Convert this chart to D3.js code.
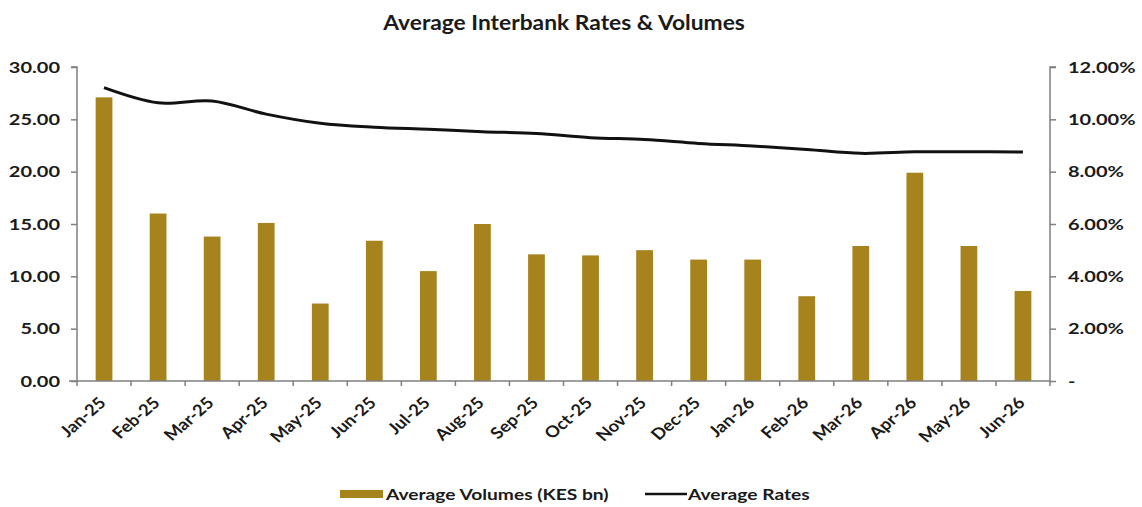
<!DOCTYPE html>
<html>
<head>
<meta charset="utf-8">
<script src="https://cdn.jsdelivr.net/npm/d3@7"></script>
<style>
  body { margin: 0; background: #fff; }
  text { font-family: Lato, "Open Sans", sans-serif; font-weight: bold; fill: #1a1a1a; }
</style>
</head>
<body>
<div id="chart"></div>
<script>
const months = ['Jan-25','Feb-25','Mar-25','Apr-25','May-25','Jun-25','Jul-25','Aug-25','Sep-25',
  'Oct-25','Nov-25','Dec-25','Jan-26','Feb-26','Mar-26','Apr-26','May-26','Jun-26'];
const volumes = [27.1, 16.0, 13.8, 15.1, 7.4, 13.4, 10.5, 15.0, 12.1, 12.0, 12.5, 11.6, 11.6, 8.1, 12.9, 19.9, 12.9, 8.6];
const rates = [11.21, 10.63, 10.70, 10.20, 9.85, 9.70, 9.62, 9.53, 9.46, 9.30, 9.23, 9.08, 8.98, 8.85, 8.70, 8.76, 8.76, 8.75];
const leftTicks = [0, 5, 10, 15, 20, 25, 30];
const rightTicks = [0, 2, 4, 6, 8, 10, 12];

const width = 1142, height = 507;
const margin = { top: 67, right: 92, bottom: 126, left: 77 };
const gold = '#A6831C';

const svg = d3.select('#chart').append('svg')
  .attr('width', width)
  .attr('height', height);

// the source text is drawn a little wide, so stretch it horizontally
function stretch(sel, sx) {
  sel.each(function () {
    const t = d3.select(this);
    const x0 = +(t.attr('x') || 0);
    t.attr('x', x0 / sx)
      .attr('transform', (t.attr('transform') || '') + ` scale(${sx},1)`);
  });
}

const x = d3.scaleBand()
  .domain(months)
  .range([margin.left, width - margin.right])
  .paddingInner(0.69)
  .paddingOuter(0.345);

const yL = d3.scaleLinear().domain([0, 30]).range([height - margin.bottom, margin.top]);
const yR = d3.scaleLinear().domain([0, 12]).range([height - margin.bottom, margin.top]);

// title
svg.append('text')
  .attr('x', 564)
  .attr('y', 30)
  .attr('text-anchor', 'middle')
  .style('font-size', '20px')
  .text('Average Interbank Rates & Volumes')
  .call(stretch, 1.14);

// bars
svg.selectAll('.bar')
  .data(volumes)
  .enter()
  .append('rect')
  .attr('class', 'bar')
  .attr('x', (d, i) => x(months[i]))
  .attr('width', x.bandwidth())
  .attr('y', d => yL(d))
  .attr('height', d => yL(0) - yL(d))
  .attr('fill', gold);

// line
const line = d3.line()
  .x((d, i) => x(months[i]) + x.bandwidth() / 2)
  .y(d => yR(d))
  .curve(d3.curveCatmullRom.alpha(0.5));

svg.append('path')
  .datum(rates)
  .attr('d', line)
  .attr('fill', 'none')
  .attr('stroke', '#111')
  .attr('stroke-width', 3);

// left axis
const axL = svg.append('g')
  .attr('transform', `translate(${margin.left},0)`)
  .call(d3.axisLeft(yL).tickValues(leftTicks).tickFormat(d3.format('.2f')).tickSize(6).tickPadding(11));

// right axis
const axR = svg.append('g')
  .attr('transform', `translate(${width - margin.right},0)`)
  .call(d3.axisRight(yR).tickValues(rightTicks)
    .tickFormat(d => d === 0 ? '-' : d3.format('.2f')(d) + '%').tickSize(6).tickPadding(12));

// x axis with ticks at category boundaries
const xAxis = svg.append('g')
  .attr('transform', `translate(0,${height - margin.bottom})`);
xAxis.append('line')
  .attr('x1', margin.left - 8)
  .attr('x2', width - margin.right)
  .attr('stroke', '#7f7f7f')
  .attr('stroke-width', 1.5);
const step = x.step();
xAxis.selectAll('.xtick')
  .data(d3.range(months.length + 1))
  .enter()
  .append('line')
  .attr('x1', i => margin.left + i * step)
  .attr('x2', i => margin.left + i * step)
  .attr('y1', 0)
  .attr('y2', 5)
  .attr('stroke', '#7f7f7f')
  .attr('stroke-width', 1.5);
xAxis.selectAll('.xlabel')
  .data(months)
  .enter()
  .append('text')
  .attr('text-anchor', 'end')
  .attr('transform', d => `translate(${x(d) + x.bandwidth() / 2 + 3},${23}) scale(1.15,1) rotate(-45)`)
  .style('font-size', '16px')
  .text(d => d);

[axL, axR].forEach(ax => {
  ax.select('.domain').attr('stroke', '#7f7f7f').attr('stroke-width', 1.5);
  ax.selectAll('.tick line').attr('stroke', '#7f7f7f').attr('stroke-width', 1.5);
  ax.selectAll('.tick text').style('font-size', '16px').attr('fill', '#1a1a1a').call(stretch, 1.25);
});
axL.select('.domain').attr('d', `M-6,${yL(30)}H0V${yL(0)}`);
axR.select('.domain').attr('d', `M6,${yR(12)}H0V${yR(0)}`);

// legend
const leg = svg.append('g').attr('transform', 'translate(340,494)');
leg.append('rect').attr('x', 0).attr('y', -4).attr('width', 43).attr('height', 8).attr('fill', gold);
leg.append('text').attr('x', 46).attr('y', 6).style('font-size', '16px').text('Average Volumes (KES bn)').call(stretch, 1.2);
leg.append('line').attr('x1', 305).attr('x2', 347).attr('y1', 0).attr('y2', 0)
  .attr('stroke', '#111').attr('stroke-width', 2.5);
leg.append('text').attr('x', 348).attr('y', 6).style('font-size', '16px').text('Average Rates').call(stretch, 1.2);
</script>
</body>
</html>
